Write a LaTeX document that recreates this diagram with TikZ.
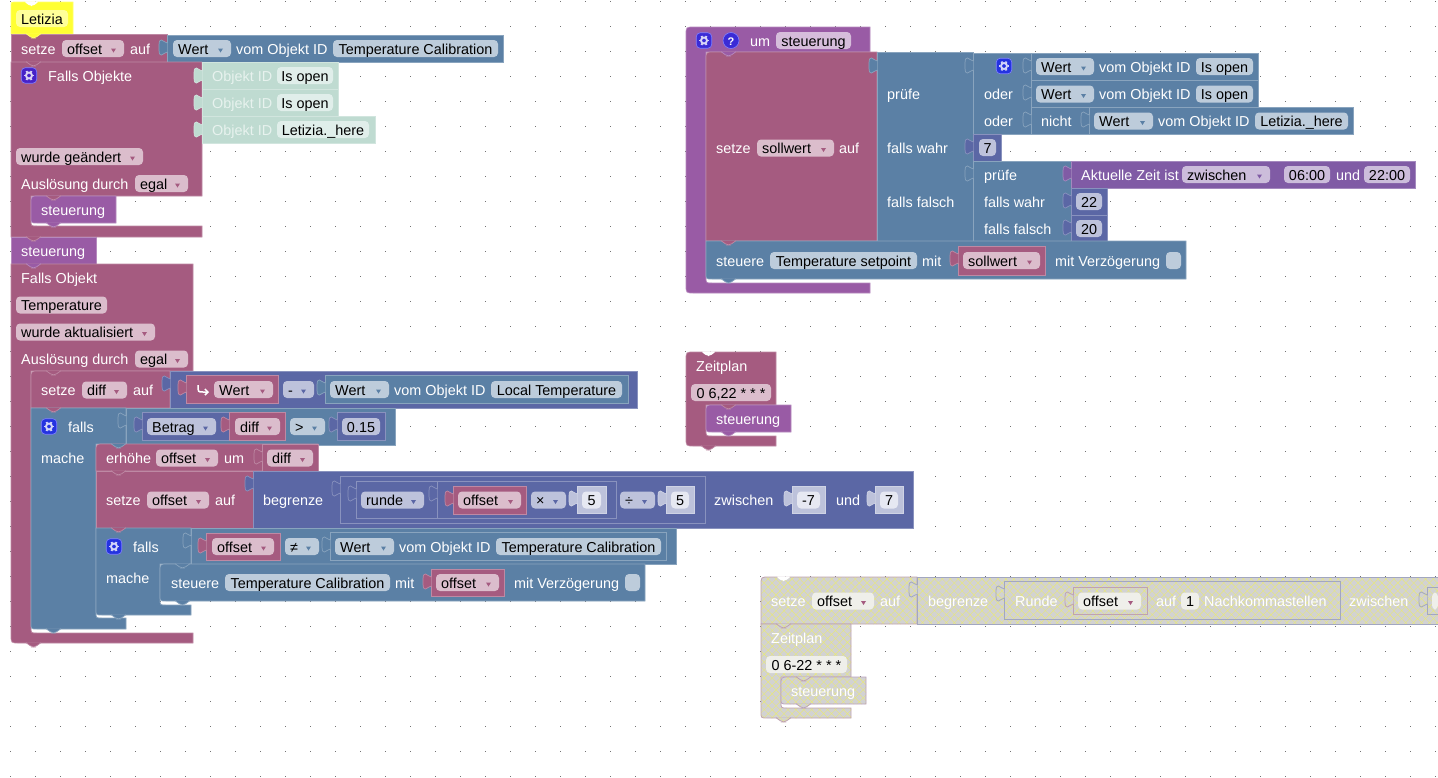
\documentclass[tikz,border=0pt]{standalone}
\usepackage{fontspec}
\setmainfont{Liberation Sans}
\usetikzlibrary{arrows.meta,patterns.meta}
\definecolor{VarRed}{HTML}{A55B80}
\definecolor{CtrlBlue}{HTML}{5B80A5}
\definecolor{MathInd}{HTML}{5B67A5}
\definecolor{ProcPurple}{HTML}{995BA5}
\definecolor{TimePurple}{HTML}{805BA5}
\definecolor{Mint}{HTML}{BFDBD1}
\definecolor{Marker}{HTML}{FFFF33}
\definecolor{RedField}{HTML}{DBBDCC}
\definecolor{BlueField}{HTML}{BDCCDB}
\definecolor{IndField}{HTML}{BDC2DB}
\definecolor{ProcField}{HTML}{D6BDDB}
\definecolor{TimeField}{HTML}{CCBDDB}
\definecolor{MintField}{HTML}{E0EEEA}
\definecolor{MintText}{HTML}{E7F2EE}
\definecolor{MarkerField}{HTML}{FFFF99}
\definecolor{ShadowField}{HTML}{E6E8F2}
\definecolor{OffField}{HTML}{EFEFEA}
\definecolor{OffGray}{HTML}{D2D2D2}
\definecolor{OffHatch}{HTML}{E8E878}
\definecolor{IconRed}{HTML}{4622C8}
\definecolor{IconBlue}{HTML}{2433E0}
\definecolor{IconProc}{HTML}{3A2BD6}
\tikzset{
  block/.style={fill=#1,draw=#1!72!white,line width=.7pt},
  lbl/.style={anchor=west,inner sep=0pt,text height=11pt,text depth=0pt,text=white},
  fieldbox/.style={inner sep=0pt,minimum height=17pt,rounded corners=4pt,text height=11pt,text depth=0pt,text=black},
  iconbox/.style={inner sep=0pt,minimum width=15.5pt,minimum height=15.5pt,rounded corners=4pt,draw=white!50!blue,line width=.6pt}
}
\def\mouthr{7}
% plain rectangular block
\newcommand{\blockbox}[5]{\path[block=#1] (#2,#3) rectangle (#4,#5);}
% statement block: colour, x1, y1, x2, y2, top-left and bottom-left radius
\newcommand{\stmtblock}[7]{\path[block=#1] (#2,#3+#6) .. controls (#2,#3) .. (#2+#6,#3) -- (#4,#3) -- (#4,#5) -- (#2+#7,#5) .. controls (#2,#5) .. (#2,#5-#7) -- cycle;}
% block with a statement mouth: [top radius] colour, x1, y1, xr, ymouth, xinner, ymouthend, yend
\newcommand{\mouthblock}[9][0]{\path[block=#2] (#3,#4+#1) .. controls (#3,#4) .. (#3+#1,#4) -- (#5,#4) -- (#5,#6) -- (#7,#6) -- (#7,#8-6) .. controls (#7,#8) .. (#7+6,#8) -- (#5,#8) -- (#5,#9) -- (#3+\mouthr,#9) .. controls (#3,#9) .. (#3,#9-\mouthr) -- cycle;}
% notch between two stacked blocks
\newcommand{\bump}[3]{\path[block=#1,rounded corners=2pt] (#2+15,#3-.4) -- (#2+21,#3+4) -- (#2+24,#3+4) -- (#2+30,#3-.4);}
\newcommand{\whitedip}[2]{\fill[white,rounded corners=2pt] (#1+15,#2-.6) -- (#1+21,#2+4) -- (#1+24,#2+4) -- (#1+30,#2-.6) -- cycle;}
% puzzle tab on the left edge of a value block
\newcommand{\puzzle}[3]{\path[block=#1] (#2+.3,#3+8) .. controls (#2-3,#3+8) and (#2-3,#3+5) .. (#2-5.5,#3+5) .. controls (#2-8,#3+5) and (#2-8,#3+8) .. (#2-8,#3+12.5) .. controls (#2-8,#3+17) and (#2-8,#3+20) .. (#2-5.5,#3+20) .. controls (#2-3,#3+20) and (#2-3,#3+17) .. (#2+.3,#3+17);}
\newcommand{\field}[6]{\node[fieldbox,fill=#5,minimum width={(#3-#2)*1pt}] (#1) at ({(#2+#3)/2},#4) {#6};}
\newcommand{\drop}[7]{\node[fieldbox,fill=#5,minimum width={(#3-#2)*1pt}] (#1) at ({(#2+#3)/2},#4) {};
  \node[lbl,text=black] (#1txt) at (#2+5,#4) {#7};
  \fill[#6] (#3-13,#4) -- (#3-8,#4) -- (#3-10.5,#4+4) -- cycle;}
\newcommand{\gearicon}[4]{\node[iconbox,fill=#4] (#1) at (#2+8,#3) {};
  \draw[white!80!#4,line width=1.9pt] (#1.center) circle (3pt);
  \foreach \a in {0,60,...,300} \draw[white!80!#4,line width=1.9pt] (#1.center) ++(\a:3.6pt) -- ++(\a:1.5pt);}
\begin{document}
\begin{tikzpicture}[x=1pt,y=-1pt,every node/.style={font=\fontsize{14.4}{16}\selectfont}]
  \useasboundingbox (0,0) rectangle (1438,777);
  \fill[white] (0,0) rectangle (1438,777);
  % workspace dots
  \foreach \gx in {10,35,...,1435} \foreach \gy in {1,26,...,776}
    \fill[black!55] (\gx,\gy) rectangle +(1,1);

  % marker and first stack
  \stmtblock{Marker}{11}{2}{73}{34}{3}{0}
  \whitedip{9}{2}
  \field{markerName}{16}{68}{18.5}{MarkerField}{Letizia}
  \blockbox{VarRed}{11}{34}{167}{62}
  \bump{Marker}{11}{34}
  \node[lbl] (setzeA) at (21,48.5) {setze};
  \drop{offsetA}{62}{124}{48.5}{RedField}{VarRed}{offset}
  \node[lbl] (aufA) at (130,48.5) {auf};
  \blockbox{CtrlBlue}{167}{35}{503}{62}
  \puzzle{CtrlBlue}{167}{35}
  \drop{wertA}{173}{231}{48.5}{BlueField}{CtrlBlue}{Wert}
  \node[lbl] (vomA) at (236,48.5) {vom Objekt ID};
  \field{calibA}{333}{498}{48.5}{BlueField}{Temperature Calibration}

  \def\mouthr{0}
  \mouthblock{VarRed}{11}{62}{202}{196}{31}{226}{237}
  \def\mouthr{8}
  \bump{VarRed}{11}{62}
  \gearicon{gearA}{21}{75.5}{IconRed}
  \node[lbl] (fallsObjekte) at (48,75.5) {Falls Objekte};
  \blockbox{Mint}{202}{62}{338}{89}
  \puzzle{Mint}{202}{63}
  \node[lbl,text=MintText] (idA) at (212,75.5) {Objekt ID};
  \field{openA}{277}{333}{75.5}{MintField}{Is open}
  \blockbox{Mint}{202}{89}{338}{116}
  \puzzle{Mint}{202}{90}
  \node[lbl,text=MintText] (idB) at (212,102.5) {Objekt ID};
  \field{openB}{277}{333}{102.5}{MintField}{Is open}
  \blockbox{Mint}{202}{116}{375}{143}
  \puzzle{Mint}{202}{117}
  \node[lbl,text=MintText] (idC) at (212,129.5) {Objekt ID};
  \field{hereA}{277}{369}{129.5}{MintField}{Letizia.\_here}
  \drop{changedA}{16}{143}{156.5}{RedField}{VarRed}{wurde geändert}
  \node[lbl] (ausloesA) at (21,183.5) {Auslösung durch};
  \drop{egalA}{135}{188}{183.5}{RedField}{VarRed}{egal}
  \stmtblock{ProcPurple}{31}{196}{116}{223}{8}{6}
  \bump{VarRed}{31}{196}
  \bump{ProcPurple}{31}{223}
  \node[lbl] (callA) at (41,210) {steuerung};

  % function call and trigger on the temperature
  \blockbox{ProcPurple}{11}{237}{96}{264}
  \bump{VarRed}{11}{237}
  \node[lbl] (callB) at (21,251) {steuerung};
  \mouthblock{VarRed}{11}{264}{193}{371}{31}{633}{643}
  \bump{ProcPurple}{11}{264}
  \bump{VarRed}{11}{643}
  \node[lbl] (fallsObjekt) at (21,278) {Falls Objekt};
  \field{tempA}{16}{107}{305}{RedField}{Temperature}
  \drop{updatedA}{16}{155}{332}{RedField}{VarRed}{wurde aktualisiert}
  \node[lbl] (ausloesB) at (21,359) {Auslösung durch};
  \drop{egalB}{135}{188}{359}{RedField}{VarRed}{egal}

  \stmtblock{VarRed}{31}{371}{170}{408}{8}{0}
  \bump{VarRed}{31}{371}
  \node[lbl] (setzeB) at (41,390) {setze};
  \drop{diffA}{82}{127}{390}{RedField}{VarRed}{diff}
  \node[lbl] (aufB) at (133,390) {auf};
  \blockbox{MathInd}{170}{371}{637}{408}
  \puzzle{MathInd}{170}{371}
  \blockbox{VarRed}{186}{375}{278}{403}
  \puzzle{VarRed}{186}{375}
  \draw[white,line width=1.5pt,-{Straight Barb[length=3pt,width=6pt]}] (198,385) .. controls (198,392) .. (203,392) -- (209,392);
  \drop{wertB}{214}{273}{389.5}{RedField}{VarRed}{Wert}
  \drop{minusA}{283}{314}{389.5}{IndField}{MathInd}{-}
  \blockbox{CtrlBlue}{325}{375}{628}{403}
  \puzzle{CtrlBlue}{325}{375}
  \drop{wertC}{330}{389}{389.5}{BlueField}{CtrlBlue}{Wert}
  \node[lbl] (vomC) at (394,389.5) {vom Objekt ID};
  \field{localA}{491}{622}{389.5}{BlueField}{Local Temperature}

  % outer condition
  \def\mouthr{6}
  \mouthblock{CtrlBlue}{31}{408}{126}{444}{96}{618}{629}
  \bump{VarRed}{31}{408}
  \bump{CtrlBlue}{31}{629}
  \gearicon{gearB}{41}{426.5}{IconBlue}
  \node[lbl] (fallsA) at (68,426.5) {falls};
  \node[lbl] (macheA) at (41,458) {mache};
  \blockbox{CtrlBlue}{126}{408}{395}{445}
  \puzzle{CtrlBlue}{126}{408}
  \blockbox{MathInd}{142}{412}{229}{440}
  \puzzle{MathInd}{142}{412}
  \drop{betragA}{147}{216}{426.5}{IndField}{MathInd}{Betrag}
  \blockbox{VarRed}{229}{412}{285}{440}
  \puzzle{VarRed}{229}{412}
  \drop{diffB}{235}{280}{426.5}{RedField}{VarRed}{diff}
  \drop{greaterA}{290}{325}{426.5}{BlueField}{CtrlBlue}{>}
  \blockbox{MathInd}{337}{412}{385}{440}
  \puzzle{MathInd}{337}{412}
  \field{numA}{342}{380}{426.5}{IndField}{0.15}

  \stmtblock{VarRed}{96}{444}{318}{471}{8}{0}
  \bump{CtrlBlue}{96}{444}
  \node[lbl] (erhoeheA) at (106,458) {erhöhe};
  \drop{offsetB}{156}{218}{458}{RedField}{VarRed}{offset}
  \node[lbl] (umA) at (224,458) {um};
  \blockbox{VarRed}{262}{444}{318}{471}
  \puzzle{VarRed}{262}{444}
  \drop{diffC}{267}{313}{458}{RedField}{VarRed}{diff}

  \blockbox{VarRed}{96}{471}{253}{528}
  \bump{VarRed}{96}{471}
  \node[lbl] (setzeC) at (106,500) {setze};
  \drop{offsetC}{147}{209}{500}{RedField}{VarRed}{offset}
  \node[lbl] (aufC) at (215,500) {auf};
  \blockbox{MathInd}{253}{471}{913}{528}
  \puzzle{MathInd}{253}{471}
  \node[lbl] (begrenzeA) at (263,500) {begrenze};
  \blockbox{MathInd}{340}{476}{705}{523}
  \puzzle{MathInd}{340}{476}
  \blockbox{MathInd}{356}{481}{616}{518}
  \puzzle{MathInd}{356}{481}
  \drop{rundeA}{361}{424}{500}{IndField}{MathInd}{runde}
  \blockbox{MathInd}{437}{481}{616}{518}
  \puzzle{MathInd}{437}{481}
  \blockbox{VarRed}{453}{486}{526}{514}
  \puzzle{VarRed}{453}{486}
  \drop{offsetD}{458}{521}{500}{RedField}{VarRed}{offset}
  \drop{timesA}{531}{566}{500}{IndField}{MathInd}{×}
  \blockbox{IndField}{577}{486}{606}{513}
  \puzzle{IndField}{577}{486}
  \field{numB}{582}{601}{500}{ShadowField}{5}
  \drop{divA}{620}{655}{500}{IndField}{MathInd}{÷}
  \blockbox{IndField}{666}{486}{694}{513}
  \puzzle{IndField}{666}{486}
  \field{numC}{671}{689}{500}{ShadowField}{5}
  \node[lbl] (zwischenA) at (714,500) {zwischen};
  \blockbox{IndField}{792}{486}{825}{513}
  \puzzle{IndField}{792}{486}
  \field{numD}{797}{820}{500}{ShadowField}{-7}
  \node[lbl] (undA) at (836,500) {und};
  \blockbox{IndField}{875}{486}{903}{513}
  \puzzle{IndField}{875}{486}
  \field{numE}{880}{898}{500}{ShadowField}{7}

  % inner condition
  \mouthblock{CtrlBlue}{96}{528}{191}{564}{160}{605}{615}
  \bump{VarRed}{96}{528}
  \bump{CtrlBlue}{96}{615}
  \gearicon{gearC}{106}{546.5}{IconBlue}
  \node[lbl] (fallsB) at (133,546.5) {falls};
  \node[lbl] (macheB) at (106,578) {mache};
  \blockbox{CtrlBlue}{191}{528}{676}{564}
  \puzzle{CtrlBlue}{191}{528}
  \blockbox{VarRed}{206}{533}{280}{560}
  \puzzle{VarRed}{206}{533}
  \drop{offsetE}{212}{274}{546.5}{RedField}{VarRed}{offset}
  \drop{neqA}{285}{319}{546.5}{BlueField}{CtrlBlue}{≠}
  \blockbox{CtrlBlue}{330}{532}{666}{560}
  \puzzle{CtrlBlue}{330}{532}
  \drop{wertD}{335}{394}{546.5}{BlueField}{CtrlBlue}{Wert}
  \node[lbl] (vomD) at (399,546.5) {vom Objekt ID};
  \field{calibB}{496}{661}{546.5}{BlueField}{Temperature Calibration}
  \stmtblock{CtrlBlue}{160}{564}{645}{601}{8}{6}
  \bump{CtrlBlue}{160}{564}
  \bump{CtrlBlue}{160}{601}
  \node[lbl] (steuereA) at (171,582.5) {steuere};
  \field{calibC}{225}{390}{582.5}{BlueField}{Temperature Calibration}
  \node[lbl] (mitA) at (395,582.5) {mit};
  \blockbox{VarRed}{431}{569}{504}{596}
  \puzzle{VarRed}{431}{569}
  \drop{offsetF}{436}{499}{582.5}{RedField}{VarRed}{offset}
  \node[lbl] (delayA) at (514,582.5) {mit Verzögerung};
  \field{checkA}{625}{640}{582.5}{BlueField}{}

  % function definition
  \def\mouthr{8}
  \mouthblock[8]{ProcPurple}{686}{27}{870}{52}{706}{283}{293}
  \gearicon{gearD}{696}{40.5}{IconProc}
  \node[circle,fill=IconProc,draw=white!50!blue,line width=.6pt,minimum size=16pt,inner sep=0pt,text=white,text height=9pt,text depth=0pt,font=\bfseries\fontsize{11}{12}\selectfont] (helpA) at (731,40.5) {?};
  \node[lbl] (umB) at (750,40.5) {um};
  \field{funcName}{776}{851}{40.5}{ProcField}{steuerung}
  \stmtblock{VarRed}{706}{52}{877}{241}{8}{0}
  \bump{ProcPurple}{706}{52}
  \node[lbl] (setzeD) at (716,148) {setze};
  \drop{sollA}{757}{834}{148}{RedField}{VarRed}{sollwert}
  \node[lbl] (aufD) at (839,148) {auf};
  \blockbox{CtrlBlue}{877}{52}{973}{241}
  \puzzle{CtrlBlue}{877}{53}
  \node[lbl] (pruefeA) at (887,94) {prüfe};
  \node[lbl] (wahrA) at (887,148) {falls wahr};
  \node[lbl] (falschA) at (887,202) {falls falsch};
  \blockbox{CtrlBlue}{973}{53}{1031}{134}
  \puzzle{CtrlBlue}{973}{53}
  \gearicon{gearE}{996}{66}{IconBlue}
  \node[lbl] (oderA) at (984,94) {oder};
  \node[lbl] (oderB) at (984,121) {oder};
  \blockbox{CtrlBlue}{1031}{53}{1258}{80}
  \puzzle{CtrlBlue}{1031}{53}
  \drop{wertE}{1036}{1094}{66.5}{BlueField}{CtrlBlue}{Wert}
  \node[lbl] (vomE) at (1099,66.5) {vom Objekt ID};
  \field{openC}{1196}{1253}{66.5}{BlueField}{Is open}
  \blockbox{CtrlBlue}{1031}{80}{1258}{107}
  \puzzle{CtrlBlue}{1031}{80}
  \drop{wertF}{1036}{1094}{94}{BlueField}{CtrlBlue}{Wert}
  \node[lbl] (vomF) at (1099,94) {vom Objekt ID};
  \field{openD}{1196}{1253}{94}{BlueField}{Is open}
  \blockbox{CtrlBlue}{1031}{107}{1353}{134}
  \puzzle{CtrlBlue}{1031}{107}
  \node[lbl] (nichtA) at (1041,121) {nicht};
  \blockbox{CtrlBlue}{1089}{107}{1353}{134}
  \puzzle{CtrlBlue}{1089}{107}
  \drop{wertG}{1094}{1153}{121}{BlueField}{CtrlBlue}{Wert}
  \node[lbl] (vomG) at (1158,121) {vom Objekt ID};
  \field{hereB}{1255}{1348}{121}{BlueField}{Letizia.\_here}
  \blockbox{MathInd}{973}{134}{1001}{161}
  \puzzle{MathInd}{973}{134}
  \field{numF}{979}{996}{147.5}{IndField}{7}
  \blockbox{CtrlBlue}{973}{161}{1071}{241}
  \puzzle{CtrlBlue}{973}{161}
  \node[lbl] (pruefeB) at (984,175) {prüfe};
  \node[lbl] (wahrB) at (984,202) {falls wahr};
  \node[lbl] (falschB) at (984,229) {falls falsch};
  \blockbox{TimePurple}{1071}{161}{1415}{188}
  \puzzle{TimePurple}{1071}{161}
  \node[lbl] (zeitA) at (1081,174.5) {Aktuelle Zeit ist};
  \drop{rangeA}{1182}{1270}{174.5}{TimeField}{TimePurple}{zwischen}
  \field{fromA}{1284}{1330}{174.5}{TimeField}{06:00}
  \node[lbl] (undB) at (1336,174.5) {und};
  \field{toA}{1364}{1410}{174.5}{TimeField}{22:00}
  \blockbox{MathInd}{1071}{188}{1107}{215}
  \puzzle{MathInd}{1071}{188}
  \field{numG}{1076}{1102}{201.5}{IndField}{22}
  \blockbox{MathInd}{1071}{215}{1107}{241}
  \puzzle{MathInd}{1071}{215}
  \field{numH}{1076}{1102}{228.5}{IndField}{20}
  \stmtblock{CtrlBlue}{706}{241}{1186}{279}{0}{6}
  \bump{VarRed}{706}{241}
  \bump{CtrlBlue}{706}{279}
  \node[lbl] (steuereB) at (716,260.5) {steuere};
  \field{setpointA}{770}{917}{260.5}{BlueField}{Temperature setpoint}
  \node[lbl] (mitB) at (922,260.5) {mit};
  \blockbox{VarRed}{958}{246}{1045}{275}
  \puzzle{VarRed}{958}{246}
  \drop{sollB}{963}{1040}{260.5}{RedField}{VarRed}{sollwert}
  \node[lbl] (delayB) at (1055,260.5) {mit Verzögerung};
  \field{checkB}{1166}{1181}{260.5}{BlueField}{}

  % schedule
  \mouthblock[8]{VarRed}{686}{352}{776}{405}{706}{436}{446}
  \whitedip{686}{352}
  \bump{VarRed}{686}{446}
  \node[lbl] (zeitplanA) at (696,366) {Zeitplan};
  \field{cronA}{691}{771}{392.5}{RedField}{0 6,22 * * *}
  \stmtblock{ProcPurple}{706}{405}{791}{432}{8}{6}
  \bump{VarRed}{706}{405}
  \bump{ProcPurple}{706}{432}
  \node[lbl] (callC) at (716,419) {steuerung};

  % switched-off blocks
  \begin{scope}[block/.style={preaction={fill=OffGray},pattern={Hatch[angle=45,distance=5.6pt,line width=.4pt]},pattern color=OffHatch,draw=#1!40!OffGray,line width=.8pt}]
    \stmtblock{VarRed}{761}{577}{917}{624}{8}{0}
    \whitedip{761}{577}
    \node[lbl] (setzeE) at (771,601) {setze};
    \drop{offsetG}{812}{874}{601}{OffField}{VarRed}{offset}
    \node[lbl] (aufE) at (880,601) {auf};
    \blockbox{MathInd}{917}{577}{1438}{624}
    \puzzle{MathInd}{917}{577}
    \node[lbl] (begrenzeB) at (928,601) {begrenze};
    \blockbox{MathInd}{1004}{581}{1340}{619}
    \puzzle{MathInd}{1004}{581}
    \node[lbl] (rundeB) at (1015,601) {Runde};
    \blockbox{VarRed}{1073}{587}{1147}{614}
    \puzzle{VarRed}{1073}{587}
    \drop{offsetH}{1078}{1141}{601}{OffField}{VarRed}{offset}
    \node[lbl] (aufF) at (1156,601) {auf};
    \field{numI}{1181}{1199}{601}{OffField}{1}
    \node[lbl] (stellenA) at (1204,601) {Nachkommastellen};
    \node[lbl] (zwischenB) at (1349,601) {zwischen};
    \blockbox{MathInd}{1427}{587}{1438}{614}
    \puzzle{MathInd}{1427}{587}
    \field{numJ}{1432}{1438}{601}{OffField}{}
    \def\mouthr{6}
    \mouthblock{VarRed}{761}{624}{851}{677}{781}{708}{718}
    \bump{VarRed}{761}{624}
    \bump{VarRed}{761}{718}
    \node[lbl] (zeitplanB) at (771,638) {Zeitplan};
    \field{cronB}{766}{847}{664.5}{OffField}{0 6-22 * * *}
    \stmtblock{ProcPurple}{781}{677}{866}{704}{8}{6}
    \bump{VarRed}{781}{677}
    \bump{ProcPurple}{781}{704}
    \node[lbl] (callD) at (791,691) {steuerung};
  \end{scope}
\end{tikzpicture}
\end{document}
